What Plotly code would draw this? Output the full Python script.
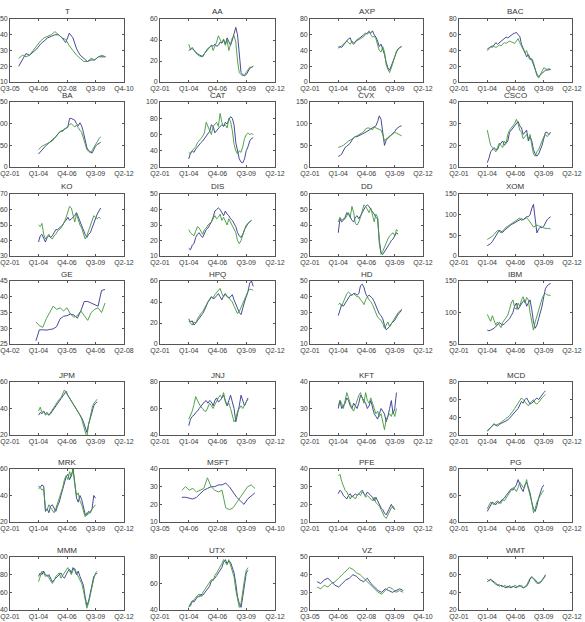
import plotly.graph_objects as go

STEP = 1 / 6  # two-month sampling

TICKERS = ["T", "AA", "AXP", "BAC", "BA", "CAT", "CVX", "CSCO", "KO", "DIS", "DD", "XOM",
           "GE", "HPQ", "HD", "IBM", "JPM", "JNJ", "KFT", "MCD", "MRK", "MSFT", "PFE", "PG",
           "MMM", "UTX", "VZ", "WMT"]
START_YEAR = [2005.9, 2004, 2004, 2004, 2004, 2004, 2004, 2004, 2004, 2004, 2004, 2004,
              2004, 2004, 2004, 2004, 2004, 2004, 2004, 2004, 2004, 2006.5, 2004, 2004,
              2004, 2004, 2005.83, 2004]

MAIN_TICKS = ["Q2-01", "Q1-04", "Q4-06", "Q3-09", "Q2-12"]
SHORT_TICKS = ["Q3-05", "Q4-06", "Q2-08", "Q3-09", "Q4-10"]
GE_TICKS = ["Q4-02", "Q1-04", "Q3-05", "Q4-06", "Q2-08"]

T_b = [20, 24, 28, 27, 29, 31, 34, 36, 38, 39, 40, 40, 38, 35, 41, 38, 31, 27, 25, 23, 24, 24, 26, 26, 26]
T_g = [25, 27, 26, 27, 30, 33, 36, 38, 39, 40, 42, 40, 38, 37, 33, 30, 27, 25, 23, 23, 25, 24, 26, 27, 26]
AA_b = [30, 31, 32, 30, 28, 27, 26, 25, 24, 27, 30, 32, 33, 35, 34, 36, 34, 35, 38, 37, 40, 36, 42, 38,
        35, 40, 46, 52, 45, 25, 9, 7, 6, 7, 10, 13, 14, 15]
AA_g = [36, 31, 33, 30, 28, 26, 25, 24, 25, 27, 29, 31, 32, 35, 30, 34, 38, 44, 40, 37, 41, 35, 40, 30,
        36, 42, 44, 38, 20, 9, 7, 6, 7, 9, 12, 14, 14, 15]
AXP_b = [43, 45, 44, 47, 50, 52, 55, 56, 50, 48, 51, 54, 55, 57, 58, 60, 62, 61, 63, 62, 65, 60, 57, 52,
         45, 48, 42, 35, 25, 18, 15, 20, 25, 32, 38, 42, 44, 45]
AXP_g = [45, 44, 46, 48, 50, 52, 50, 48, 52, 50, 51, 53, 54, 55, 56, 58, 60, 62, 65, 60, 57, 58, 55, 47,
         40, 38, 45, 38, 22, 16, 12, 18, 26, 33, 39, 42, 44, 45]
BAC_b = [40, 42, 45, 44, 47, 50, 48, 50, 52, 53, 55, 57, 56, 58, 60, 61, 62, 63, 60, 58, 48, 42, 38, 32,
         35, 30, 28, 22, 15, 10, 7, 9, 12, 14, 15, 15, 16, 16]
BAC_g = [42, 43, 45, 46, 45, 44, 45, 47, 46, 48, 50, 49, 50, 52, 51, 50, 49, 52, 55, 50, 45, 40, 37, 40,
         32, 28, 30, 25, 15, 8, 5, 10, 15, 18, 17, 16, 17, 16]
BA_b = [30, 35, 40, 45, 48, 52, 55, 58, 62, 66, 70, 75, 80, 82, 85, 88, 90, 92, 112, 112, 110, 108, 100, 95,
        102, 95, 80, 60, 45, 38, 35, 32, 40, 48, 52, 55, 57]
BA_g = [40, 45, 48, 50, 52, 54, 55, 58, 60, 65, 70, 75, 80, 84, 82, 88, 90, 95, 98, 100, 95, 92, 97, 90,
        85, 80, 65, 50, 40, 36, 33, 38, 45, 50, 60, 65, 70]
CAT_b = [30, 37, 40, 38, 42, 45, 48, 50, 52, 55, 57, 60, 64, 72, 70, 62, 65, 68, 70, 72, 70, 75, 73, 78,
         82, 80, 72, 50, 38, 30, 26, 25, 30, 40, 45, 52, 55, 56]
CAT_g = [38, 36, 40, 43, 45, 50, 52, 55, 58, 62, 75, 70, 66, 60, 70, 72, 75, 70, 86, 75, 70, 72, 68, 80,
         76, 65, 48, 40, 36, 40, 38, 45, 55, 60, 62, 60, 61, 60]
CVX_b = [25, 26, 30, 38, 45, 48, 52, 55, 62, 68, 70, 70, 72, 75, 76, 78, 80, 82, 85, 88, 90, 92, 95, 105,
         118, 110, 80, 50, 62, 66, 68, 72, 78, 82, 88, 92, 94, 95]
CVX_g = [45, 46, 48, 50, 54, 57, 60, 62, 64, 66, 70, 72, 74, 76, 79, 82, 88, 90, 90, 88, 86, 92, 90, 88,
         86, 85, 75, 60, 65, 68, 70, 72, 76, 80, 78, 76, 74, 72]
CSCO_b = [12, 14, 17, 18, 19, 18, 18, 20, 21, 22, 20, 21, 22, 26, 27, 28, 29, 30, 31, 29, 28, 25, 26, 27,
          22, 24, 22, 18, 16, 15, 16, 18, 20, 23, 26, 26, 25, 26]
CSCO_g = [27, 23, 20, 19, 18, 17, 19, 21, 20, 19, 22, 21, 25, 27, 28, 29, 30, 32, 30, 27, 26, 23, 24, 25,
          23, 25, 20, 16, 15, 17, 18, 20, 22, 24, 25, 24, 25, 26]
KO_b = [39, 43, 44, 41, 39, 42, 43, 42, 43, 45, 47, 47, 48, 49, 50, 52, 53, 55, 53, 54, 55, 56, 58, 55,
        52, 50, 47, 44, 42, 44, 45, 48, 52, 55, 57, 59, 61]
KO_g = [50, 49, 51, 44, 41, 43, 44, 42, 41, 43, 44, 46, 47, 48, 50, 52, 55, 58, 62, 61, 56, 52, 57, 53,
        50, 48, 44, 41, 43, 46, 50, 53, 56, 55, 54, 55, 54]
DIS_b = [15, 14, 17, 18, 22, 24, 25, 23, 22, 25, 27, 28, 30, 32, 35, 39, 40, 41, 40, 38, 36, 39, 37, 36,
         34, 33, 31, 29, 25, 23, 22, 24, 27, 29, 31, 32, 33]
DIS_g = [27, 25, 24, 23, 26, 29, 28, 26, 24, 27, 28, 30, 31, 32, 34, 36, 34, 35, 37, 33, 35, 32, 30, 34,
         32, 30, 28, 25, 20, 18, 20, 24, 27, 30, 31, 32, 33]
DD_b = [35, 44, 42, 43, 45, 48, 47, 45, 43, 42, 45, 46, 44, 46, 48, 50, 52, 53, 52, 50, 48, 47, 45, 44,
        30, 22, 21, 23, 25, 27, 28, 30, 31, 33, 35, 34]
DD_g = [42, 45, 43, 44, 44, 46, 48, 45, 52, 48, 41, 40, 42, 45, 50, 53, 52, 50, 48, 51, 46, 42, 47, 45,
        28, 21, 23, 26, 29, 31, 33, 34, 35, 33, 37, 36]
XOM_b = [25, 27, 30, 35, 42, 48, 55, 62, 60, 57, 62, 66, 70, 74, 76, 78, 80, 82, 85, 88, 90, 88, 92, 95,
         95, 100, 115, 125, 90, 56, 65, 70, 68, 72, 80, 88, 92, 95]
XOM_g = [40, 42, 45, 48, 52, 58, 62, 60, 56, 60, 66, 70, 72, 75, 78, 80, 84, 88, 90, 92, 86, 88, 90, 92,
         88, 82, 76, 70, 72, 75, 73, 72, 70, 68, 67, 66, 67, 65]
GE_b = [26, 29.5, 29.5, 29.4, 29.6, 29.8, 30.5, 33, 33.8, 34, 34.5, 34.2, 33.2, 35.5, 38.5, 38.5, 38, 37.5,
        37, 42, 42.3]
GE_g = [32, 30.8, 30.3, 33, 35, 37, 36, 36.5, 35.5, 36.5, 34.5, 33.5, 34, 35.5, 34, 32.5, 35, 36,
        36.5, 35, 38]
HPQ_b = [24, 21, 22, 18, 20, 22, 25, 27, 29, 32, 36, 40, 42, 45, 43, 44, 46, 48, 45, 42, 46, 48, 45, 44,
         45, 47, 42, 38, 35, 30, 28, 35, 40, 45, 50, 58, 60, 55]
HPQ_g = [22, 20, 18, 21, 20, 24, 27, 29, 31, 34, 38, 41, 43, 45, 44, 47, 49, 51, 53, 48, 45, 47, 46, 44,
         42, 40, 36, 32, 29, 31, 35, 38, 42, 46, 50, 52, 52, 51]
HD_b = [28, 31, 35, 34, 36, 38, 39, 41, 41, 42, 42, 41, 42, 47, 48, 46, 42, 40, 41, 40, 39, 37, 34, 31,
        29, 28, 26, 22, 19, 20, 21, 23, 24, 25, 27, 29, 30, 32]
HD_g = [35, 36, 34, 37, 40, 42, 43, 42, 41, 42, 41, 40, 40, 38, 37, 35, 38, 40, 38, 37, 35, 32, 29, 27,
        26, 25, 23, 20, 22, 24, 21, 23, 25, 26, 28, 30, 31, 31]
IBM_b = [72, 71, 72, 73, 75, 78, 80, 84, 82, 80, 82, 85, 88, 90, 95, 100, 110, 115, 105, 110, 115, 118, 120, 110,
         115, 120, 105, 85, 75, 80, 90, 100, 110, 125, 138, 142, 145, 146]
IBM_g = [97, 90, 86, 95, 88, 80, 85, 80, 76, 84, 88, 92, 96, 105, 115, 120, 108, 105, 115, 110, 120, 125, 115, 124,
         120, 100, 85, 72, 85, 95, 105, 115, 122, 128, 130, 128, 128, 127]
JPM_b = [35, 37, 36, 38, 36, 37, 35, 36, 38, 40, 42, 44, 45, 47, 50, 52, 53, 50, 48, 46, 44, 42, 40, 38,
         36, 33, 30, 25, 22, 28, 33, 38, 42, 44, 45]
JPM_g = [38, 41, 37, 38, 35, 36, 35, 37, 39, 41, 44, 46, 47, 48, 51, 54, 52, 50, 47, 45, 43, 41, 39, 37,
         35, 32, 27, 22, 18, 28, 35, 40, 44, 46, 47]
JNJ_b = [47, 52, 54, 55, 57, 58, 60, 62, 63, 65, 66, 64, 66, 65, 62, 66, 68, 65, 66, 68, 70, 66, 62, 66,
         70, 65, 60, 50, 55, 62, 70, 66, 62, 65, 68]
JNJ_g = [52, 55, 58, 63, 69, 66, 63, 61, 60, 58, 58, 61, 64, 62, 60, 63, 66, 68, 70, 68, 72, 65, 62, 64,
         60, 55, 50, 52, 58, 60, 62, 60, 63, 65, 67]
KFT_b = [30, 33, 30, 31, 32, 34, 33, 31, 30, 32, 31, 30, 32, 35, 34, 33, 32, 30, 31, 33, 30, 28, 27, 26,
         28, 30, 29, 28, 25, 27, 30, 33, 28, 30, 36]
KFT_g = [31, 33, 32, 30, 33, 36, 34, 32, 30, 29, 31, 33, 35, 36, 34, 32, 36, 33, 32, 34, 32, 30, 28, 29,
         27, 28, 25, 22, 26, 27, 28, 27, 29, 27, 30]
MCD_b = [25, 27, 28, 30, 32, 31, 30, 32, 33, 34, 35, 36, 37, 39, 41, 43, 45, 47, 50, 54, 58, 56, 60, 62,
         58, 55, 56, 58, 60, 62, 60, 63, 65, 68, 70]
MCD_g = [24, 26, 28, 30, 33, 31, 32, 33, 34, 36, 37, 39, 40, 42, 44, 47, 50, 53, 56, 59, 62, 60, 58, 55,
         53, 56, 58, 60, 56, 55, 57, 60, 62, 64, 66]
MRK_b = [47, 46, 48, 47, 28, 30, 27, 32, 33, 30, 28, 32, 35, 40, 45, 50, 54, 56, 52, 55, 60, 50, 38, 35,
         40, 37, 30, 26, 25, 28, 27, 30, 40, 38]
MRK_g = [45, 46, 44, 45, 30, 29, 33, 31, 29, 27, 30, 34, 38, 42, 46, 52, 55, 52, 58, 54, 60, 48, 40, 42,
         36, 33, 28, 24, 27, 26, 28, 30, 32, 33]
MSFT_b = [24, 24, 23.5, 23, 24, 26, 28, 29, 30, 30, 31, 31, 32, 30, 27, 24, 22, 20, 23, 25, 26.5]
MSFT_g = [28, 30, 28, 29, 27, 28, 29, 35, 30, 28, 27, 28, 18, 17, 18, 21, 24, 27, 30, 31, 29]
PFE_b = [26, 28, 27, 25, 24, 23, 25, 26, 24, 25, 26, 25, 26, 27, 28, 26, 25, 27, 26, 25, 24, 22, 24, 22,
         20, 18, 17, 15, 14, 16, 18, 20, 18, 17]
PFE_g = [36, 37, 33, 30, 28, 27, 25, 23, 25, 24, 23, 25, 26, 25, 27, 26, 24, 25, 24, 23, 22, 24, 21, 20,
         19, 17, 15, 13, 12, 14, 16, 18, 19, 17]
PG_b = [48, 50, 53, 55, 54, 53, 55, 54, 56, 57, 58, 60, 62, 63, 65, 64, 66, 68, 72, 68, 65, 63, 68, 70,
        66, 62, 55, 50, 48, 52, 58, 62, 66, 68]
PG_g = [50, 52, 55, 54, 53, 55, 56, 55, 54, 57, 56, 58, 60, 62, 64, 66, 65, 63, 66, 70, 68, 66, 67, 72,
        65, 60, 55, 47, 50, 55, 58, 60, 62, 64]
MMM_b = [78, 82, 80, 84, 80, 78, 80, 75, 72, 74, 76, 78, 80, 82, 78, 76, 80, 84, 86, 82, 88, 85, 80, 84,
         78, 72, 68, 55, 45, 50, 60, 70, 78, 80, 82]
MMM_g = [72, 78, 84, 82, 78, 80, 77, 74, 70, 73, 78, 80, 82, 76, 79, 82, 85, 88, 84, 80, 85, 87, 82, 78,
         75, 70, 62, 50, 42, 48, 58, 65, 75, 82, 84]
UTX_b = [42, 45, 47, 46, 48, 50, 50, 52, 51, 53, 55, 57, 58, 62, 63, 64, 66, 68, 70, 72, 76, 78, 75, 77,
         76, 72, 68, 60, 50, 45, 42, 50, 60, 68, 70]
UTX_g = [44, 43, 46, 48, 49, 51, 52, 50, 53, 55, 56, 58, 60, 63, 62, 66, 68, 70, 72, 75, 78, 76, 74, 78,
         74, 70, 65, 55, 47, 42, 45, 55, 63, 70, 72]
VZ_b = [36, 35, 37, 38, 36, 34, 33, 35, 37, 38, 40, 39, 37, 36, 38, 35, 33, 31, 30, 32, 31, 30, 31, 32, 31]
VZ_g = [33, 32, 34, 33, 35, 36, 38, 40, 42, 44, 43, 41, 40, 38, 36, 34, 32, 30, 29, 31, 33, 32, 30, 31, 30]
WMT_b = [52, 54, 55, 53, 52, 50, 48, 47, 48, 47, 46, 45, 47, 46, 45, 47, 46, 45, 47, 48, 46, 45, 46, 47,
         50, 55, 57, 56, 54, 52, 50, 51, 53, 56, 60]
WMT_g = [55, 53, 54, 52, 51, 49, 48, 49, 47, 46, 48, 47, 45, 48, 46, 46, 48, 47, 46, 47, 48, 45, 47, 48,
         52, 56, 58, 55, 53, 50, 51, 52, 54, 57, 58]

BLUE_SERIES = [T_b, AA_b, AXP_b, BAC_b, BA_b, CAT_b, CVX_b, CSCO_b, KO_b, DIS_b, DD_b, XOM_b,
               GE_b, HPQ_b, HD_b, IBM_b, JPM_b, JNJ_b, KFT_b, MCD_b, MRK_b, MSFT_b, PFE_b, PG_b,
               MMM_b, UTX_b, VZ_b, WMT_b]
GREEN_SERIES = [T_g, AA_g, AXP_g, BAC_g, BA_g, CAT_g, CVX_g, CSCO_g, KO_g, DIS_g, DD_g, XOM_g,
                GE_g, HPQ_g, HD_g, IBM_g, JPM_g, JNJ_g, KFT_g, MCD_g, MRK_g, MSFT_g, PFE_g, PG_g,
                MMM_g, UTX_g, VZ_g, WMT_g]

# y-axis range (min, max, step)
Y_AXES = {"T": (10, 50, 10), "AA": (0, 60, 20), "AXP": (0, 80, 20), "BAC": (0, 80, 20),
          "BA": (0, 150, 50), "CAT": (20, 100, 20), "CVX": (0, 150, 50), "CSCO": (10, 40, 10),
          "KO": (30, 70, 10), "DIS": (10, 50, 10), "DD": (20, 60, 10), "XOM": (0, 150, 50),
          "GE": (25, 45, 5), "HPQ": (0, 60, 20), "HD": (10, 50, 10), "IBM": (50, 150, 50),
          "JPM": (20, 60, 20), "JNJ": (40, 80, 20), "KFT": (20, 40, 10), "MCD": (20, 80, 20),
          "MRK": (20, 60, 20), "MSFT": (10, 40, 10), "PFE": (10, 40, 10), "PG": (40, 80, 20),
          "MMM": (40, 100, 20), "UTX": (40, 80, 20), "VZ": (20, 50, 10), "WMT": (20, 80, 20)}

X_AXES = {"main": ((2001.25, 2012.25), MAIN_TICKS),
          "short": ((2005.5, 2010.75), SHORT_TICKS),
          "ge": ((2002.75, 2008.25), GE_TICKS)}
X_KIND = {"T": "short", "MSFT": "short", "VZ": "short", "GE": "ge"}

W, H = 585, 622
COLS = [(10, 124), (160, 275), (310, 423), (459, 572)]
ROWS = [(19, 82), (102, 167), (194, 256), (281, 344), (382, 435), (469, 522), (557, 610)]

BLUE = "#34348f"
GREEN = "#3f9a3a"
FONT = "Liberation Sans, Arial, sans-serif"

fig = go.Figure()
layout = {}
annotations = []
for k, tk in enumerate(TICKERS):
    r, c = divmod(k, 4)
    sfx = "" if k == 0 else str(k + 1)
    x0, x1 = COLS[c]
    y0, y1 = ROWS[r]
    start = START_YEAR[k]
    for series, color in ((BLUE_SERIES[k], BLUE), (GREEN_SERIES[k], GREEN)):
        xs = [start + i * STEP for i in range(len(series))]
        fig.add_trace(go.Scatter(x=xs, y=series, mode="lines", xaxis="x" + sfx, yaxis="y" + sfx,
                                 line=dict(color=color, width=0.9), showlegend=False,
                                 hoverinfo="skip"))
    (xr, ticks) = X_AXES[X_KIND.get(tk, "main")]
    nt = len(ticks)
    tickvals = [xr[0] + (xr[1] - xr[0]) * j / (nt - 1) for j in range(nt)]
    ymin, ymax, ystep = Y_AXES[tk]
    common = dict(showline=True, mirror="ticks", linecolor="#555", linewidth=0.8,
                  ticks="inside", ticklen=2, tickcolor="#555", showgrid=False, zeroline=False,
                  automargin=False, tickfont=dict(family=FONT, size=7, color="#3a3a3a"))
    layout["xaxis" + sfx] = dict(domain=[x0 / W, x1 / W], anchor="y" + sfx, range=list(xr),
                                 tickmode="array", tickvals=tickvals, ticktext=ticks, **common)
    layout["yaxis" + sfx] = dict(domain=[1 - y1 / H, 1 - y0 / H], anchor="x" + sfx,
                                 range=[ymin, ymax], tickmode="linear", tick0=ymin, dtick=ystep,
                                 **common)
    annotations.append(dict(text=tk, x=(x0 + x1) / 2 / W, y=1 - (y0 - 1.5) / H, xref="paper",
                            yref="paper", xanchor="center", yanchor="bottom", showarrow=False,
                            borderpad=0, font=dict(family=FONT, size=8, color="#333")))

fig.update_layout(**layout)
fig.update_layout(width=W, height=H, margin=dict(l=0, r=0, t=0, b=0), template="none",
                  paper_bgcolor="white", plot_bgcolor="white", showlegend=False,
                  annotations=annotations)
fig.write_html("out.html")
